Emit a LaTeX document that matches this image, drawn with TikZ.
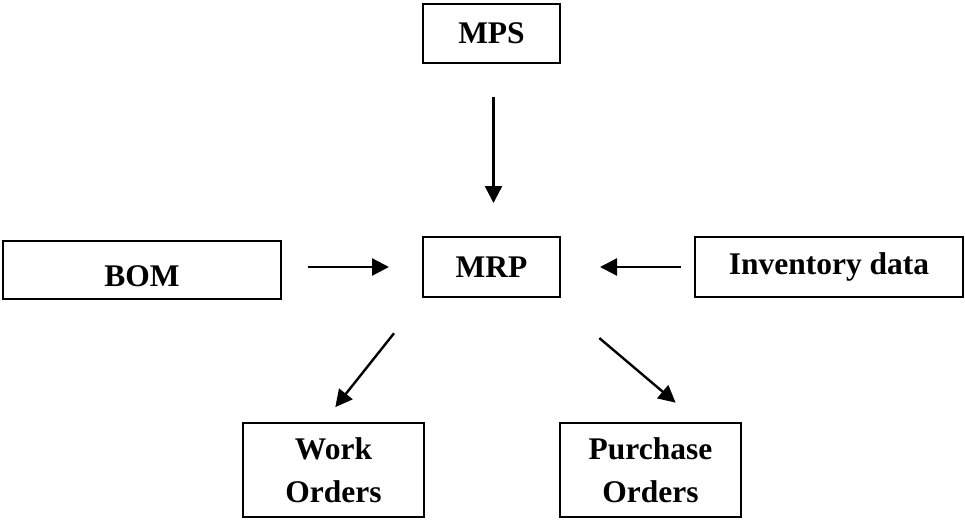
\documentclass[tikz,border=0pt]{standalone}
\usepackage{fontspec}
\setmainfont{Liberation Serif}
\usetikzlibrary{arrows.meta}
\begin{document}
\begin{tikzpicture}[x=1pt,y=-1pt,
  box/.style={draw, line width=2pt, inner sep=0pt, font=\fontsize{31.5}{43}\selectfont\bfseries, align=center},
  arr/.style={line width=2.4pt, -{Triangle[length=17pt,width=17pt]}}]
\useasboundingbox (0,0) rectangle (965,520);
\node[box, minimum width=137pt, minimum height=59pt] (mps) at (491.5,33.5) {MPS};
\node[box, minimum width=137pt, minimum height=60pt] (mrp) at (491.5,267) {MRP};
\node[box, minimum width=278pt, minimum height=58pt] (bom) at (142,270) {\raisebox{-16.5pt}[0pt][0pt]{BOM}};
\node[box, minimum width=268pt, minimum height=60pt] (inv) at (829,267) {Inventory data};
\node[box, minimum width=181pt, minimum height=94pt] (wo) at (333.5,470) {Work\\Orders};
\node[box, minimum width=181pt, minimum height=94pt] (po) at (650.5,470) {Purchase\\Orders};
\draw[arr, shorten <=33pt, shorten >=33pt] ([xshift=2pt]mps.south) -- ([xshift=2pt]mrp.north);
\draw[arr, shorten <=26pt, shorten >=33pt] (bom.east |- mrp.west) -- (mrp.west);
\draw[arr, shorten <=13pt, shorten >=39pt] (inv.west) -- (mrp.east);
\draw[arr, shorten <=45pt, shorten >=19pt] (mrp.south west) -- ([xshift=-10pt]wo.north);
\draw[arr, shorten <=62pt, shorten >=30pt] ([xshift=-9pt]mrp.south east) -- ([xshift=48pt]po.north);
\end{tikzpicture}
\end{document}
